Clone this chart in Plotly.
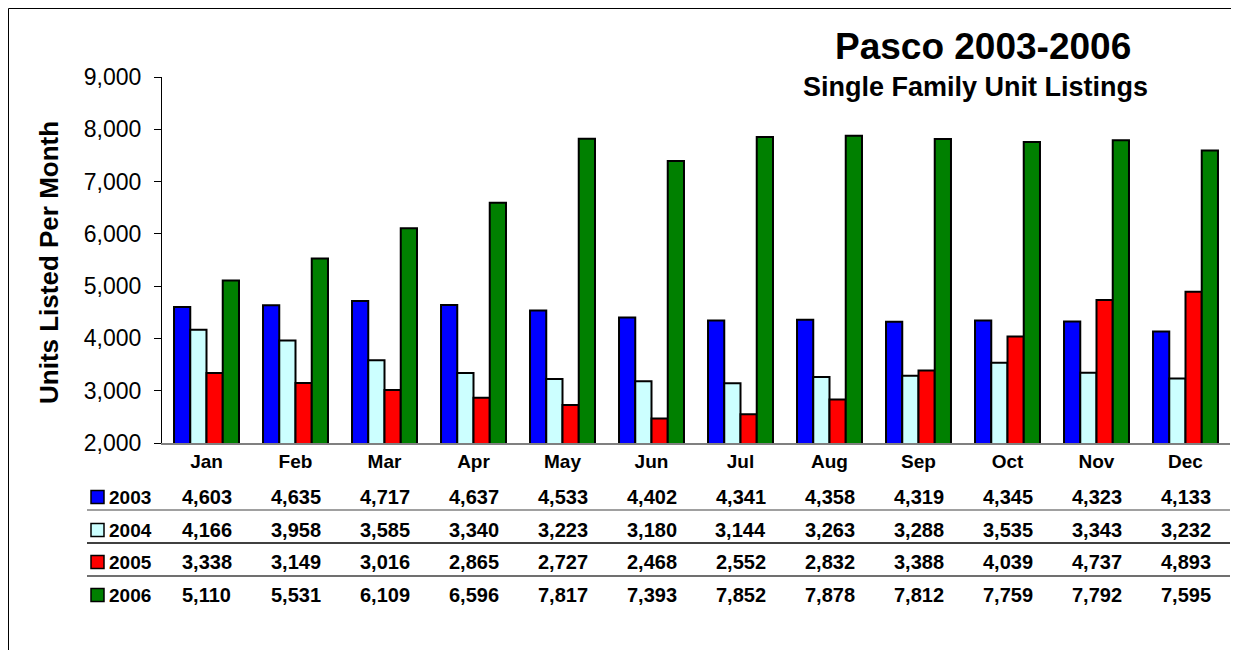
import plotly.graph_objects as go

months = ["Jan", "Feb", "Mar", "Apr", "May", "Jun", "Jul", "Aug", "Sep", "Oct", "Nov", "Dec"]
years = ["2003", "2004", "2005", "2006"]
v2003 = [4603, 4635, 4717, 4637, 4533, 4402, 4341, 4358, 4319, 4345, 4323, 4133]
v2004 = [4166, 3958, 3585, 3340, 3223, 3180, 3144, 3263, 3288, 3535, 3343, 3232]
v2005 = [3338, 3149, 3016, 2865, 2727, 2468, 2552, 2832, 3388, 4039, 4737, 4893]
v2006 = [5110, 5531, 6109, 6596, 7817, 7393, 7852, 7878, 7812, 7759, 7792, 7595]
series = [v2003, v2004, v2005, v2006]
colors = ["#0000FF", "#CCFFFF", "#FF0000", "#008000"]

FONT = "Liberation Sans, Arial, sans-serif"
OFF = 8  # page body margin
W, H = 1231, 642
L, R, T = 162 - OFF, 9, 77 - OFF
B = H - (443 - OFF)
pw = W - L - R
ph = H - T - B


def px(x):
    return (x - OFF - L) / pw


def py(y):
    return (H - B - (y - OFF)) / ph


fig = go.Figure()
for name, vals, col in zip(years, series, colors):
    fig.add_trace(go.Bar(x=months, y=vals, name=name, marker=dict(color=col, line=dict(color="black", width=2)),
                         showlegend=False))

annotations = []
shapes = []
row_y = [497, 530, 562, 595]
for name, vals, col, ry in zip(years, series, colors, row_y):
    for m, v in zip(months, vals):
        annotations.append(dict(x=m, xref="x", y=py(ry), yref="paper", text=f"{v:,}", showarrow=False,
                                font=dict(family=FONT, size=20, color="black", weight="bold"),
                                xanchor="center", yanchor="middle"))
    annotations.append(dict(x=px(107), xref="paper", y=py(ry), yref="paper", text=name, showarrow=False,
                            font=dict(family=FONT, size=19, color="black", weight="bold"),
                            xanchor="left", yanchor="middle"))
    shapes.append(dict(type="rect", xref="paper", yref="paper", x0=px(91), x1=px(104),
                       y0=py(ry + 6.5), y1=py(ry - 6.5), fillcolor=col, line=dict(color="black", width=1.5)))

sep_y = [510, 543, 576]
sep_col = ["#808080", "#000000", "#404040"]
for sy, sc in zip(sep_y, sep_col):
    shapes.append(dict(type="line", xref="paper", yref="paper", x0=px(87), x1=1.0, y0=py(sy), y1=py(sy),
                       line=dict(color=sc, width=1.5)))

# chart border (top and left edges visible)
shapes.append(dict(type="line", xref="paper", yref="paper", x0=px(OFF + 0.5), x1=px(1236), y0=py(OFF + 0.5),
                   y1=py(OFF + 0.5), line=dict(color="black", width=1)))
shapes.append(dict(type="line", xref="paper", yref="paper", x0=px(OFF + 0.5), x1=px(OFF + 0.5), y0=py(OFF + 0.5),
                   y1=py(700), line=dict(color="black", width=1)))

annotations.append(dict(x=px(983), xref="paper", y=py(46), yref="paper", text="Pasco 2003-2006", showarrow=False,
                        font=dict(family=FONT, size=37, color="black", weight="bold"), xanchor="center", yanchor="middle"))
annotations.append(dict(x=px(975), xref="paper", y=py(87), yref="paper", text="Single Family Unit Listings",
                        showarrow=False, font=dict(family=FONT, size=27, color="black", weight="bold"),
                        xanchor="center", yanchor="middle"))
annotations.append(dict(x=px(49), xref="paper", y=py(263), yref="paper", text="Units Listed Per Month",
                        showarrow=False, textangle=-90,
                        font=dict(family=FONT, size=26, color="black", weight="bold"), xanchor="center", yanchor="middle"))

fig.update_layout(
    width=W, height=H,
    margin=dict(l=L, r=R, t=T, b=B, pad=0),
    paper_bgcolor="white", plot_bgcolor="white",
    barmode="group", bargap=0.27, bargroupgap=0,
    font=dict(family=FONT, color="black"),
    annotations=annotations, shapes=shapes,
    xaxis=dict(showline=True, linecolor="#808080", linewidth=2, ticks="", showgrid=False,
               tickfont=dict(family=FONT, size=19, color="black", weight="bold"), ticklabelstandoff=0),
    yaxis=dict(range=[2000, 9000], dtick=1000, tickformat=",", showline=True, linecolor="black", linewidth=1,
               ticks="outside", ticklen=7, tickcolor="black", showgrid=False, zeroline=False,
               tickfont=dict(family=FONT, size=23, color="black"), ticklabelstandoff=8),
)

fig.write_html("out.html")
